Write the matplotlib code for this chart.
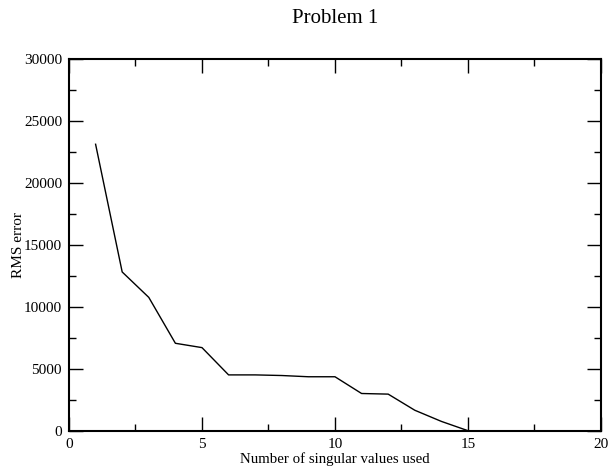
import matplotlib
matplotlib.use('Agg')
import matplotlib.pyplot as plt
from matplotlib.ticker import MultipleLocator

n_values = [1, 2, 3, 4, 5, 6, 7, 8, 9, 10, 11, 12, 13, 14, 15]
rms_error = [23100, 12800, 10750, 7050, 6700, 4500, 4500, 4450, 4350, 4350,
             3000, 2950, 1650, 750, 0]

plt.rcParams['font.family'] = 'Liberation Serif'

fig = plt.figure(figsize=[6.1, 4.68], dpi=100)
ax = fig.add_axes([0.1131, 0.0797, 0.8721, 0.7949])
ax.plot(n_values, rms_error, color='black', linewidth=1)

ax.set_xlim(0, 20)
ax.set_ylim(0, 30000)
ax.xaxis.set_major_locator(MultipleLocator(5))
ax.xaxis.set_minor_locator(MultipleLocator(2.5))
ax.yaxis.set_major_locator(MultipleLocator(5000))
ax.yaxis.set_minor_locator(MultipleLocator(2500))
ax.tick_params(which='both', direction='in', top=True, right=True,
               labelsize=11, width=1)
ax.tick_params(axis='x', pad=5)
ax.tick_params(axis='y', pad=5)
ax.tick_params(which='major', length=10)
ax.tick_params(which='minor', length=5)
for s in ax.spines.values():
    s.set_linewidth(1.5)

ax.set_title('Problem 1', fontsize=15, pad=26)
ax.set_xlabel('Number of singular values used', fontsize=10.7, labelpad=1)
ax.set_ylabel('RMS error', fontsize=11)
ax.yaxis.set_label_coords(-0.082, 0.5)

fig.savefig('out.png', dpi=100)
